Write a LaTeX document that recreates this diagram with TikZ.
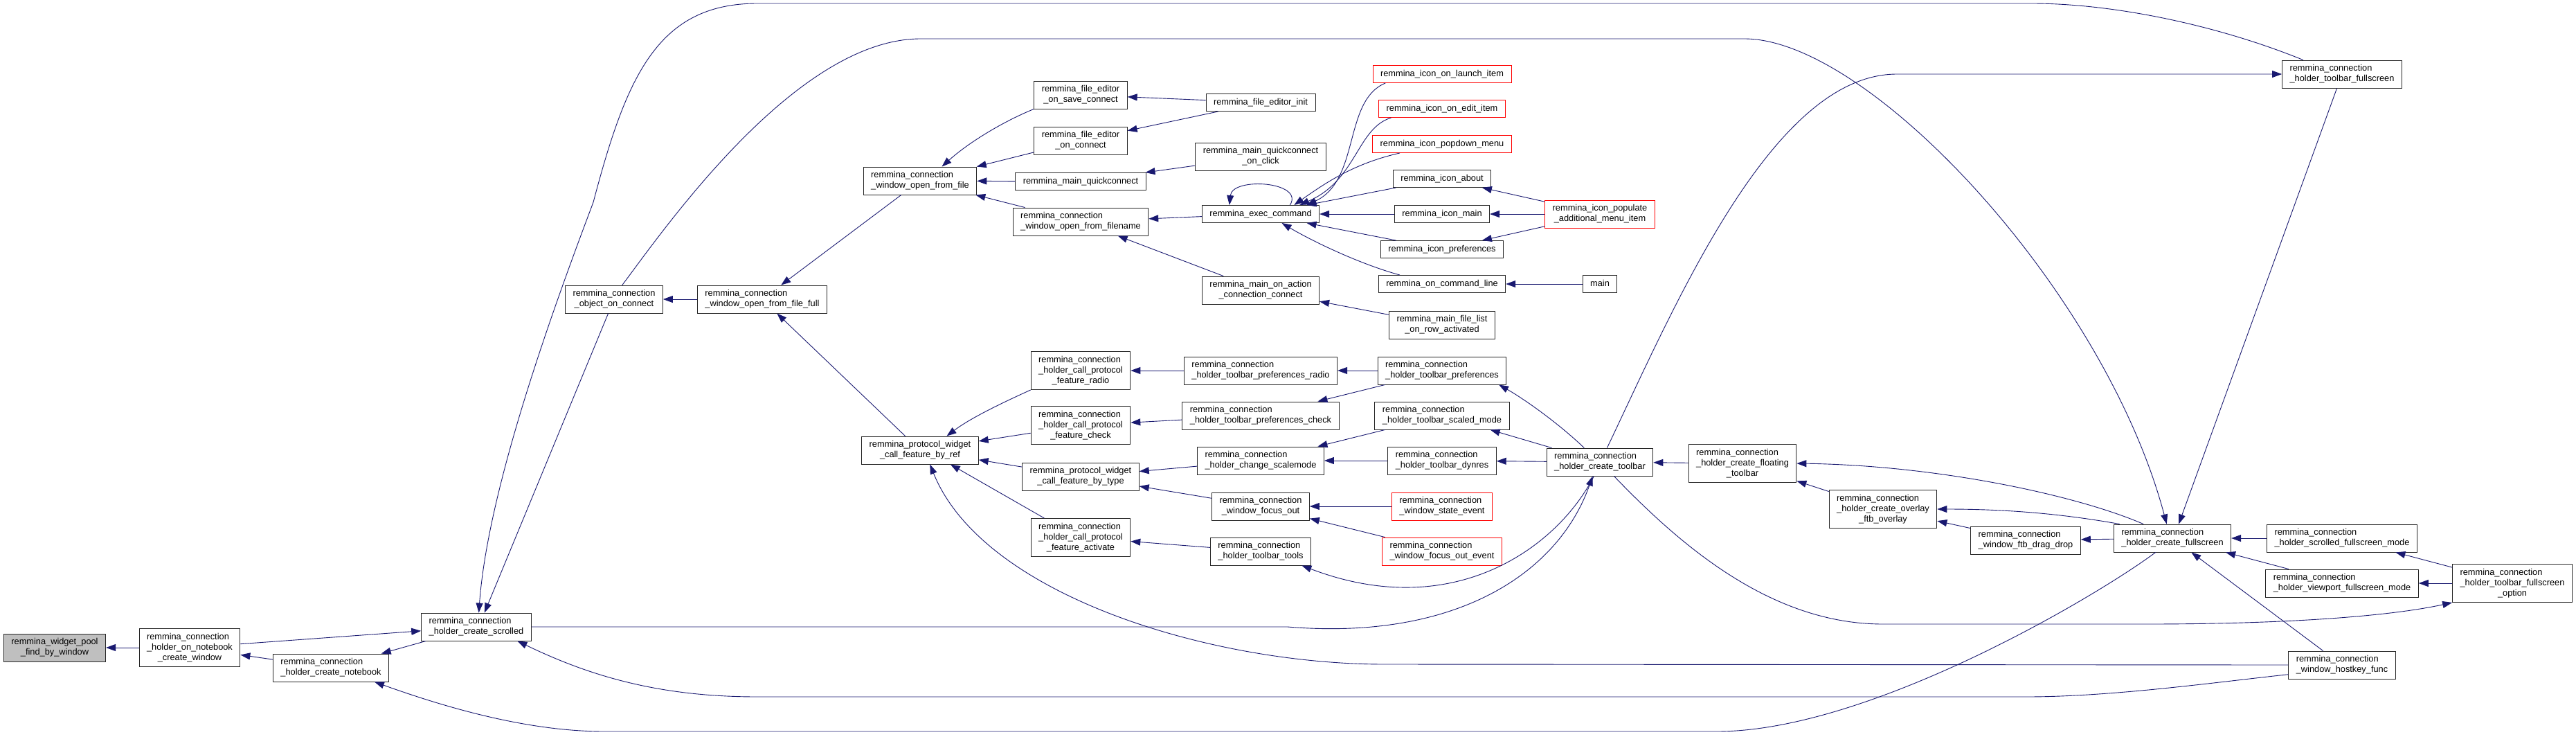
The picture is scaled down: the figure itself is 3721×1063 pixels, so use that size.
\documentclass[tikz,border=0pt]{standalone}
\usepackage{fontspec}
\setmainfont{Liberation Sans}
\usetikzlibrary{arrows.meta}
\definecolor{edgeblue}{HTML}{191970}
\definecolor{rootgray}{HTML}{BFBFBF}
\newcommand{\oneline}[1]{\begin{tabular}{@{}c@{}}#1\end{tabular}}
\newcommand{\twoline}[2]{\begin{tabular}{@{}l@{}}#1\\\multicolumn{1}{@{}c@{}}{#2}\end{tabular}}
\newcommand{\threeline}[3]{\begin{tabular}{@{}l@{}}#1\\#2\\\multicolumn{1}{@{}c@{}}{#3}\end{tabular}}
\begin{document}
\begin{tikzpicture}[x=1pt,y=-1pt,
  fbox/.style={draw=black!85,line width=0.9pt,fill=white,inner xsep=11pt,inner ysep=5pt,font=\fontsize{12.8}{15}\selectfont},
  redbox/.style={fbox,draw=red},
  rootbox/.style={fbox,fill=rootgray},
  calls/.style={draw=edgeblue,line width=0.9pt,-{Triangle[length=14pt,width=10pt]}}]
\useasboundingbox (0,0) rectangle (3721,1063);

\node[rootbox] (pool) at (79,935) {\twoline{remmina\_widget\_pool}{\_find\_by\_window}};
\node[fbox] (nbwin) at (274,935) {\threeline{remmina\_connection}{\_holder\_on\_notebook}{\_create\_window}};
\node[fbox] (notebook) at (478,964) {\twoline{remmina\_connection}{\_holder\_create\_notebook}};
\node[fbox] (scrolled) at (688,905) {\twoline{remmina\_connection}{\_holder\_create\_scrolled}};
\node[fbox] (objconn) at (887,432) {\twoline{remmina\_connection}{\_object\_on\_connect}};
\node[fbox] (fromfull) at (1101,432) {\twoline{remmina\_connection}{\_window\_open\_from\_file\_full}};
\node[fbox] (fromfile) at (1329,261) {\twoline{remmina\_connection}{\_window\_open\_from\_file}};
\node[fbox] (byref) at (1329,650) {\twoline{remmina\_protocol\_widget}{\_call\_feature\_by\_ref}};

\node[fbox] (saveconn) at (1561,137) {\twoline{remmina\_file\_editor}{\_on\_save\_connect}};
\node[fbox] (edconn) at (1561,203) {\twoline{remmina\_file\_editor}{\_on\_connect}};
\node[fbox] (quick) at (1561,262) {\oneline{remmina\_main\_quickconnect}};
\node[fbox] (fromname) at (1561,320) {\twoline{remmina\_connection}{\_window\_open\_from\_filename}};
\node[fbox] (radio) at (1561,535) {\threeline{remmina\_connection}{\_holder\_call\_protocol}{\_feature\_radio}};
\node[fbox] (check) at (1561,614) {\threeline{remmina\_connection}{\_holder\_call\_protocol}{\_feature\_check}};
\node[fbox] (bytype) at (1561,688) {\twoline{remmina\_protocol\_widget}{\_call\_feature\_by\_type}};
\node[fbox] (activate) at (1561,776) {\threeline{remmina\_connection}{\_holder\_call\_protocol}{\_feature\_activate}};

\node[fbox] (edinit) at (1821,148) {\oneline{remmina\_file\_editor\_init}};
\node[fbox] (quickclick) at (1821,226) {\twoline{remmina\_main\_quickconnect}{\_on\_click}};
\node[fbox] (exec) at (1821,309) {\oneline{remmina\_exec\_command}};
\node[fbox] (onaction) at (1821,419) {\twoline{remmina\_main\_on\_action}{\_connection\_connect}};
\node[fbox] (tbradio) at (1821,535) {\twoline{remmina\_connection}{\_holder\_toolbar\_preferences\_radio}};
\node[fbox] (tbcheck) at (1821,600) {\twoline{remmina\_connection}{\_holder\_toolbar\_preferences\_check}};
\node[fbox] (scalemode) at (1821,665) {\twoline{remmina\_connection}{\_holder\_change\_scalemode}};
\node[fbox] (focusout) at (1821,731) {\twoline{remmina\_connection}{\_window\_focus\_out}};
\node[fbox] (tbtools) at (1821,796) {\twoline{remmina\_connection}{\_holder\_toolbar\_tools}};

\node[redbox] (launch) at (2083,107) {\oneline{remmina\_icon\_on\_launch\_item}};
\node[redbox] (edititem) at (2083,157) {\oneline{remmina\_icon\_on\_edit\_item}};
\node[redbox] (popdown) at (2083,208) {\oneline{remmina\_icon\_popdown\_menu}};
\node[fbox] (about) at (2083,258) {\oneline{remmina\_icon\_about}};
\node[fbox] (iconmain) at (2083,309) {\oneline{remmina\_icon\_main}};
\node[fbox] (iconprefs) at (2083,360) {\oneline{remmina\_icon\_preferences}};
\node[fbox] (cmdline) at (2083,410) {\oneline{remmina\_on\_command\_line}};
\node[fbox] (rowact) at (2083,469) {\twoline{remmina\_main\_file\_list}{\_on\_row\_activated}};
\node[fbox] (tbprefs) at (2083,535) {\twoline{remmina\_connection}{\_holder\_toolbar\_preferences}};
\node[fbox] (tbscaled) at (2083,600) {\twoline{remmina\_connection}{\_holder\_toolbar\_scaled\_mode}};
\node[fbox] (tbdynres) at (2083,665) {\twoline{remmina\_connection}{\_holder\_toolbar\_dynres}};
\node[redbox] (stateev) at (2083,731) {\twoline{remmina\_connection}{\_window\_state\_event}};
\node[redbox] (focusev) at (2083,796) {\twoline{remmina\_connection}{\_window\_focus\_out\_event}};

\node[redbox] (populate) at (2311,309) {\twoline{remmina\_icon\_populate}{\_additional\_menu\_item}};
\node[fbox] (mainfn) at (2311,410) {\oneline{main}};
\node[fbox] (mktoolbar) at (2311,667) {\twoline{remmina\_connection}{\_holder\_create\_toolbar}};
\node[fbox] (floating) at (2517,669) {\threeline{remmina\_connection}{\_holder\_create\_floating}{\_toolbar}};
\node[fbox] (overlay) at (2720,735) {\threeline{remmina\_connection}{\_holder\_create\_overlay}{\_ftb\_overlay}};
\node[fbox] (dragdrop) at (2926,780) {\twoline{remmina\_connection}{\_window\_ftb\_drag\_drop}};
\node[fbox] (fullscr) at (3138,777) {\twoline{remmina\_connection}{\_holder\_create\_fullscreen}};
\node[fbox] (tbfull) at (3383,107) {\twoline{remmina\_connection}{\_holder\_toolbar\_fullscreen}};
\node[fbox] (scrollfs) at (3383,777) {\twoline{remmina\_connection}{\_holder\_scrolled\_fullscreen\_mode}};
\node[fbox] (viewfs) at (3383,842) {\twoline{remmina\_connection}{\_holder\_viewport\_fullscreen\_mode}};
\node[fbox] (hostkey) at (3383,960) {\twoline{remmina\_connection}{\_window\_hostkey\_func}};
\node[fbox] (tbfsopt) at (3629,842) {\threeline{remmina\_connection}{\_holder\_toolbar\_fullscreen}{\_option}};

\draw[calls] (nbwin) -- (pool);
\draw[calls] (notebook) -- (nbwin);
\draw[calls] (nbwin) -- (scrolled);
\draw[calls] (scrolled) -- (notebook);
\draw[calls] (fullscr.220) .. controls (3030,860) and (2700,1056) .. (2480,1056) -- (873,1056) .. controls (760,1056) and (640,1020) .. (notebook.342);
\draw[calls] (objconn) -- (scrolled.60);
\draw[calls] (tbfull.160) .. controls (3200,35) and (3050,5) .. (2935,5) -- (1094,5) .. controls (950,5) and (905,110) .. (857,292) .. controls (805,430) and (705,700) .. (scrolled.80);
\draw[calls] (objconn.60) .. controls (960,330) and (1150,56) .. (1330,56) -- (2520,56) .. controls (2700,56) and (3040,420) .. (fullscr.112);
\draw[calls] (tbfull.250) -- (fullscr.66);
\draw[calls] (fromfull) -- (objconn);
\draw[calls] (fromfile) -- (fromfull);
\draw[calls] (byref) -- (fromfull);

\draw[calls] (saveconn.south west) .. controls (1450,175) and (1400,205) .. (fromfile.33);
\draw[calls] (edconn) -- (fromfile);
\draw[calls] (quick) -- (fromfile);
\draw[calls] (fromname) -- (fromfile);
\draw[calls] (edinit) -- (saveconn);
\draw[calls] (edinit) -- (edconn);
\draw[calls] (quickclick) -- (quick);
\draw[calls] (exec) -- (fromname);
\draw[calls] (onaction) -- (fromname);
\draw[calls] (exec.17) .. controls (1885,262) and (1780,255) .. (exec.164);
\draw[calls] (launch.189) .. controls (1940,145) and (1965,260) .. (exec.11);
\draw[calls] (edititem.190) .. controls (1960,185) and (1960,260) .. (exec.13);
\draw[calls] (popdown.192) .. controls (1960,235) and (1920,260) .. (exec.15);
\draw[calls] (about) -- (exec);
\draw[calls] (iconmain) -- (exec);
\draw[calls] (iconprefs) -- (exec);
\draw[calls] (cmdline.168) .. controls (1960,380) and (1890,345) .. (exec.337);
\draw[calls] (populate) -- (about);
\draw[calls] (populate) -- (iconmain);
\draw[calls] (populate) -- (iconprefs);
\draw[calls] (mainfn) -- (cmdline);
\draw[calls] (rowact) -- (onaction);

\draw[calls] (radio.south west) .. controls (1440,585) and (1400,605) .. (byref.28);
\draw[calls] (check) -- (byref);
\draw[calls] (bytype) -- (byref);
\draw[calls] (activate.152) -- (byref.335);
\draw[calls] (hostkey.west) -- (2000,959) .. controls (1750,959) and (1420,860) .. (byref.305);
\draw[calls] (tbradio) -- (radio);
\draw[calls] (tbcheck) -- (check);
\draw[calls] (scalemode) -- (bytype);
\draw[calls] (focusout) -- (bytype);
\draw[calls] (tbtools) -- (activate);

\draw[calls] (tbprefs) -- (tbradio);
\draw[calls] (tbprefs) -- (tbcheck);
\draw[calls] (tbscaled) -- (scalemode);
\draw[calls] (tbdynres) -- (scalemode);
\draw[calls] (stateev) -- (focusout);
\draw[calls] (focusev) -- (focusout);
\draw[calls] (mktoolbar.247) .. controls (2250,790) and (2100,900) .. (tbtools.341);
\draw[calls] (mktoolbar.138) .. controls (2250,610) and (2200,575) .. (tbprefs.346);
\draw[calls] (mktoolbar) -- (tbscaled);
\draw[calls] (mktoolbar) -- (tbdynres);
\draw[calls] (scrolled.east) -- (1860,905) .. controls (2100,925) and (2250,830) .. (mktoolbar.243);
\draw[calls] (mktoolbar.63) .. controls (2420,440) and (2560,107) .. (2740,107) -- (tbfull.west);
\draw[calls] (mktoolbar.315) .. controls (2430,790) and (2560,901) .. (2720,901) -- (3100,901) .. controls (3300,901) and (3450,890) .. (tbfsopt.south west);
\draw[calls] (floating) -- (mktoolbar);

\draw[calls] (fullscr.154) .. controls (3000,715) and (2800,672) .. (floating.east);
\draw[calls] (overlay) -- (floating);
\draw[calls] (fullscr.165) .. controls (2980,742) and (2900,735) .. (overlay.east);
\draw[calls] (dragdrop) -- (overlay);
\draw[calls] (fullscr) -- (dragdrop);
\draw[calls] (scrollfs) -- (fullscr);
\draw[calls] (viewfs) -- (fullscr);
\draw[calls] (hostkey) -- (fullscr);
\draw[calls] (tbfsopt) -- (scrollfs);
\draw[calls] (tbfsopt) -- (viewfs);
\draw[calls] (hostkey.190) .. controls (3200,985) and (3050,1006) .. (2927,1006) -- (1094,1006) .. controls (950,1006) and (850,975) .. (scrolled.341);
\end{tikzpicture}
\end{document}
